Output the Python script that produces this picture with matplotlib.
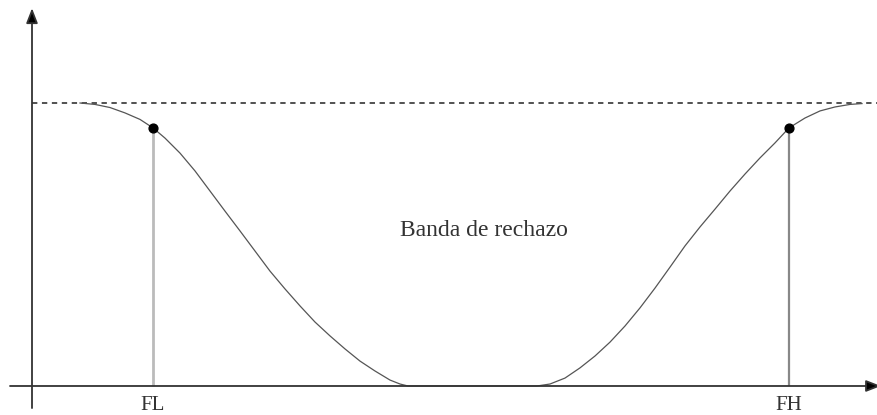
import numpy as np
import matplotlib.pyplot as plt

# Band-stop response: frequency (arbitrary units) vs normalised gain
freq_low = [48, 63, 78, 93, 108, 121, 133, 148, 163, 178, 193, 208, 223, 238,
            253, 268, 283, 298, 313, 328, 343, 358, 368, 376]
gain_low = [1.000, 0.995, 0.984, 0.965, 0.942, 0.912, 0.876, 0.823, 0.760,
            0.689, 0.618, 0.548, 0.477, 0.406, 0.343, 0.283, 0.226, 0.177,
            0.131, 0.088, 0.053, 0.021, 0.007, 0.0]

freq_stop = [376, 505]
gain_stop = [0.0, 0.0]

freq_high = [505, 518, 533, 548, 563, 578, 593, 608, 623, 638, 653, 668, 683,
             698, 713, 728, 743, 757, 773, 788, 803, 818, 830]
gain_high = [0.0, 0.007, 0.028, 0.064, 0.106, 0.155, 0.212, 0.276, 0.346,
             0.420, 0.495, 0.562, 0.625, 0.689, 0.749, 0.806, 0.859, 0.912,
             0.947, 0.972, 0.986, 0.995, 0.998]

cutoff_freqs = [121, 757]
cutoff_gains = [0.912, 0.912]
cutoff_labels = ["FL", "FH"]

band_label = "Banda de rechazo"

fig = plt.figure(figsize=(8.78, 4.15), dpi=100)
ax = fig.add_axes([0, 0, 1, 1])
ax.set_xlim(-32, 846)
ax.set_ylim(-0.1025, 1.364)
ax.axis("off")

axis_col = "#333333"
arrow = dict(arrowstyle="-|>,head_length=0.9,head_width=0.35",
             color=axis_col, fc="black", lw=1.3, shrinkA=0, shrinkB=0)
# axes with arrow heads
ax.annotate("", xy=(0, 1.335), xytext=(0, -0.078), arrowprops=arrow,
            annotation_clip=False)
ax.annotate("", xy=(849, 0), xytext=(-22, 0), arrowprops=arrow,
            annotation_clip=False)

# passband reference level
ax.plot([0, 846], [1, 1], color="#222222", lw=1.1, linestyle=(0, (3.5, 3)))

# response curve
freq = np.concatenate([freq_low, freq_stop, freq_high])
gain = np.concatenate([gain_low, gain_stop, gain_high])
ax.plot(freq, gain, color="#555555", lw=0.9)

# cutoff markers and drop lines
ax.vlines(cutoff_freqs[0], 0, cutoff_gains[0], color="#bbbbbb", lw=2.0)
ax.vlines(cutoff_freqs[1], 0, cutoff_gains[1], color="#888888", lw=1.6)
ax.scatter(cutoff_freqs, cutoff_gains, s=40, color="black", zorder=5)

for f, lab in zip(cutoff_freqs, cutoff_labels):
    ax.text(f, -0.035, lab, ha="center", va="top", fontsize=15,
            family="Liberation Serif", color="#333333")

ax.text(452, 0.55, band_label, ha="center", va="center", fontsize=17,
        family="Liberation Serif", color="#333333")

fig.savefig("out.png", dpi=100)
